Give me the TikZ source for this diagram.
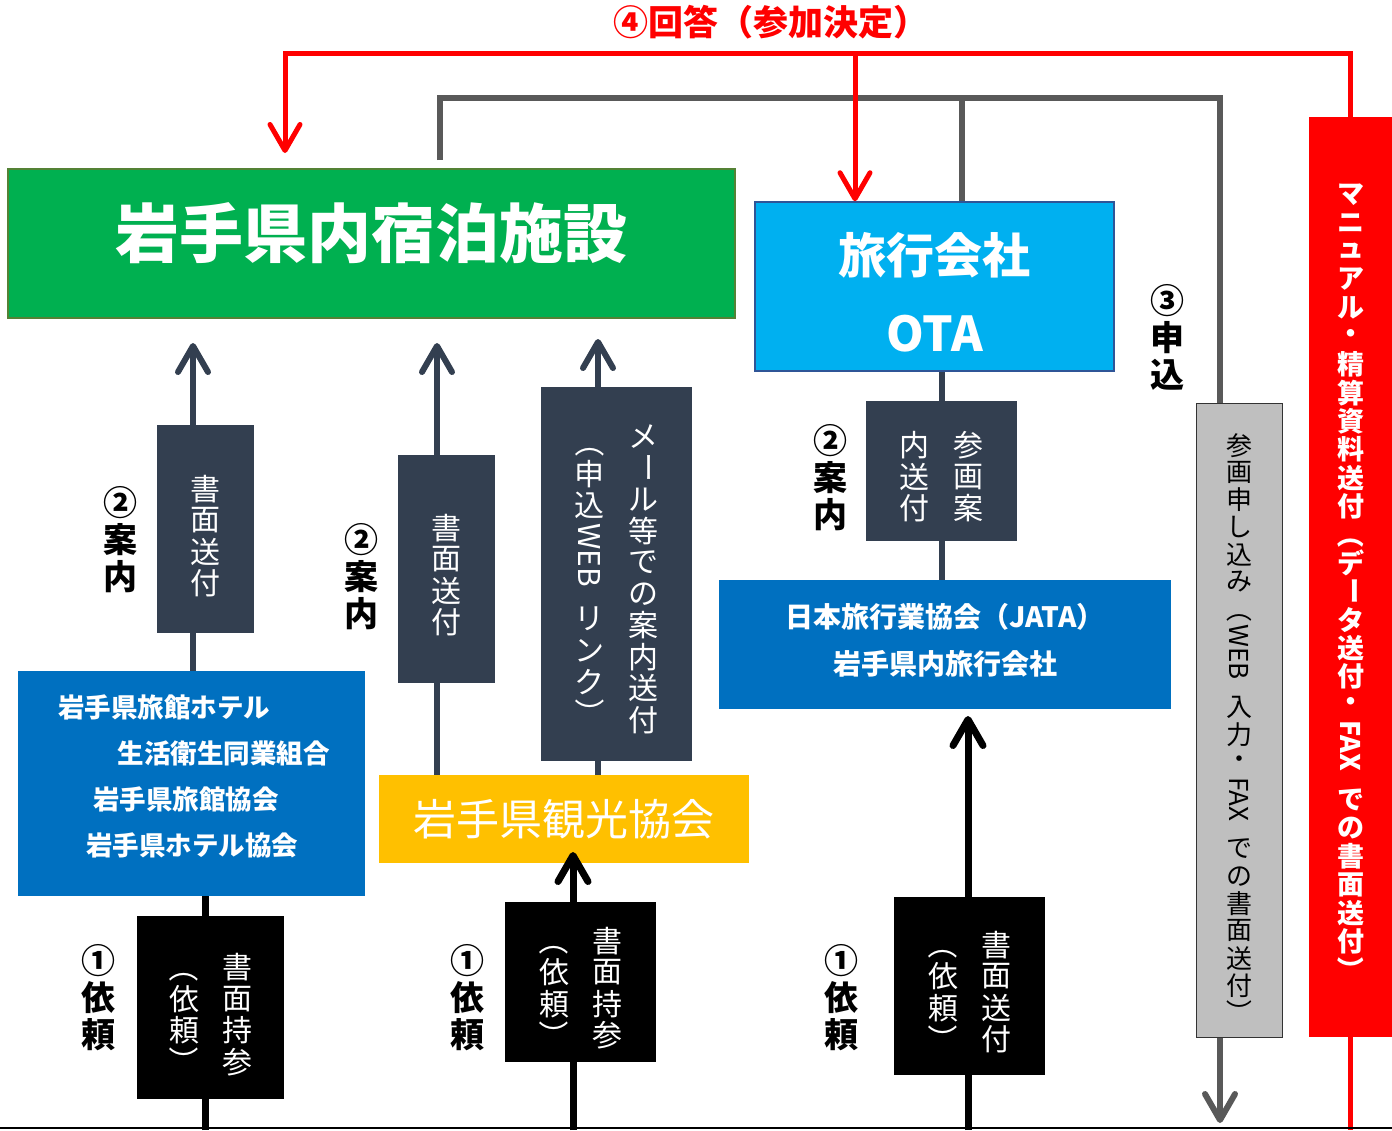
\documentclass[tikz,border=0pt]{standalone}
\usepackage{fontspec}
\setmainfont{Noto Sans CJK JP}
\usepackage{graphicx}
\usetikzlibrary{arrows.meta,backgrounds,positioning}
\definecolor{slate}{RGB}{51,63,80}
\definecolor{facgreen}{RGB}{0,176,80}
\definecolor{facborder}{RGB}{84,130,53}
\definecolor{otablue}{RGB}{0,176,240}
\definecolor{otaborder}{RGB}{47,85,151}
\definecolor{orgblue}{RGB}{0,112,192}
\definecolor{tourgold}{RGB}{255,192,0}
\definecolor{applygray}{RGB}{191,191,191}
\definecolor{linegray}{RGB}{89,89,89}
\definecolor{baseline}{RGB}{132,151,176}
% vertical (tategaki) stacking of characters
\makeatletter
\newcommand\tgap{}
\def\tt@gap{\tgap}
\newcommand\rot[1]{\rotatebox[origin=c]{-90}{#1}}
\newcommand\tate[2][1.05em]{$\vcenter{\offinterlineskip
  \@tfor\tt@ch:=#2\do{%
    \ifx\tt@ch\tt@gap\vskip0.45em\relax\else
      \setbox0\hbox{\tt@ch}%
      \dimen0=\ht0 \advance\dimen0 by\dp0
      \ifdim\dimen0<#1\relax\dimen0=#1\relax\else\advance\dimen0 by 0.15em\fi
      \hbox to 1.2em{\hss\vbox to\dimen0{\vss\box0\vss}\hss}%
    \fi}}$}
\makeatother
% move text inside a box without changing the box
\newcommand\shiftdown[2]{\raisebox{-#1}[\height][\depth]{#2}}
\tikzset{
    % Box styles
    facility box/.style={
        draw=facborder,
        fill=facgreen,
        line width=1.5pt,
        text=white,
        font=\bfseries\fontsize{64}{70}\selectfont
    },
    agent box/.style={
        draw=otaborder,
        fill=otablue,
        line width=1.5pt,
        text=white,
        font=\bfseries\fontsize{48}{78}\selectfont
    },
    org box/.style={
        fill=orgblue,
        text=white,
        inner sep=0pt,
        font=\bfseries\fontsize{26.5}{46}\selectfont
    },
    tour box/.style={
        fill=tourgold,
        text=white,
        font=\fontsize{43}{48}\selectfont
    },
    guide box/.style={
        fill=slate,
        text=white,
        inner sep=0pt,
        font=\fontsize{30}{32}\selectfont
    },
    request box/.style={
        fill=black,
        text=white,
        inner sep=0pt,
        font=\fontsize{30}{32}\selectfont
    },
    apply box/.style={
        fill=applygray,
        draw=black!80,
        line width=1pt,
        inner sep=0pt,
        font=\fontsize{26}{28}\selectfont
    },
    manual box/.style={
        fill=red,
        text=white,
        inner sep=0pt,
        font=\bfseries\fontsize{27}{29}\selectfont
    },
    num label/.style={
        inner sep=0pt,
        font=\bfseries\fontsize{34}{36}\selectfont
    },
    % Line styles
    barb/.style={-{Straight Barb[length=26pt,width=30pt,round]}},
    slate line/.style={draw=slate, line width=6pt},
    black line/.style={draw=black, line width=7pt},
    gray line/.style={draw=linegray, line width=6pt},
    red line/.style={draw=red, line width=5pt}
}

\begin{document}
\begin{tikzpicture}[x=1pt, y=-1pt]
    \useasboundingbox (0,0) rectangle (1392,1130);

    % boxes
    \node[facility box, minimum width=727pt, minimum height=149pt] (hotels) at (371.5,243.5)
        {\shiftdown{-10pt}{岩手県内宿泊施設}};
    \node[agent box, minimum width=359pt, minimum height=169pt] (ota) at (934.5,286.5)
        {\shiftdown{10pt}{\begin{tabular}{@{}c@{}}旅行会社\\OTA\end{tabular}}};
    \node[manual box, minimum width=83pt, minimum height=920pt] (manual) at (1350.5,577)
        {\shiftdown{5pt}{\tate{マニュアル・精算資料送付{\rot{（}}デ{\rot{ー}}タ送付・{\rot{FAX}}\tgap での書面送付{\rot{）}}}}};
    \node[apply box, minimum width=86pt, minimum height=634pt] (apply) at (1239,720)
        {\shiftdown{9pt}{\tate{参画申し込み{\rot{（}}{\rot{WEB}}\tgap 入力・{\rot{FAX}}\tgap での書面送付{\rot{）}}}}};

    \node[guide box, minimum width=97pt, minimum height=208pt] (guideA) at (205.5,529)
        {\shiftdown{7pt}{\tate{書面送付}}};
    \node[guide box, minimum width=97pt, minimum height=228pt] (guideB) at (446.5,569)
        {\shiftdown{6pt}{\tate{書面送付}}};
    \node[guide box, minimum width=151pt, minimum height=374pt] (guideC) at (616.5,574)
        {\shiftdown{4pt}{\tate{{\rot{（}}申込{\rot{WEB}}\tgap リンク{\rot{）}}}\hspace{18pt}\tate{メ{\rot{ー}}ル等での案内送付}}};
    \node[guide box, minimum width=151pt, minimum height=140pt] (guideD) at (941.5,471)
        {\shiftdown{6pt}{\tate{内送付}\hspace{18pt}\tate{参画案}}};

    \node[org box, minimum width=343pt, minimum height=225pt] (assoc) at (191.5,783.5)
        {\shiftdown{-6.5pt}{\begin{tabular}{@{}l@{}}
            \hspace*{40pt}岩手県旅館ホテル\\
            \hspace*{100pt}生活衛生同業組合\\
            \hspace*{75pt}岩手県旅館協会\\
            \hspace*{68pt}岩手県ホテル協会
        \end{tabular}}\hspace*{35pt}};
    \node[tour box, minimum width=370pt, minimum height=88pt] (tourism) at (564,819) {岩手県観光協会};
    \node[org box, minimum width=452pt, minimum height=129pt, font=\bfseries\fontsize{28}{47}\selectfont] (jata) at (945,644.5)
        {\shiftdown{-3pt}{\begin{tabular}{@{}c@{}}日本旅行業協会（JATA）\\岩手県内旅行会社\end{tabular}}};

    \node[request box, minimum width=147pt, minimum height=183pt] (reqA) at (210.5,1007.5)
        {\shiftdown{7pt}{\tate{{\rot{（}}依頼{\rot{）}}}\hspace{17pt}\tate{書面持参}}};
    \node[request box, minimum width=151pt, minimum height=160pt] (reqB) at (580.5,982)
        {\shiftdown{6pt}{\tate{{\rot{（}}依頼{\rot{）}}}\hspace{17pt}\tate{書面持参}}};
    \node[request box, minimum width=151pt, minimum height=178pt] (reqC) at (969.5,986)
        {\shiftdown{6pt}{\tate{{\rot{（}}依頼{\rot{）}}}\hspace{17pt}\tate{書面送付}}};

    % step labels
    \node[num label] (guideA label) at (120,540) {\tate[1.09em]{②案内}};
    \node[num label] (guideB label) at (361,577) {\tate[1.09em]{②案内}};
    \node[num label] (guideD label) at (830,478) {\tate[1.09em]{②案内}};
    \node[num label] (apply label) at (1167,338) {\tate[1.09em]{③申込}};
    \node[num label] (reqA label) at (98,998) {\tate[1.09em]{①依頼}};
    \node[num label] (reqB label) at (467,998) {\tate[1.09em]{①依頼}};
    \node[num label] (reqC label) at (841,998) {\tate[1.09em]{①依頼}};
    \node[text=red, font=\bfseries\fontsize{35}{38}\selectfont] (answer) at (771,22) {④回答（参加決定）};

    % free ends
    \coordinate (tipA) at (193,343);
    \coordinate (tipB) at (437,343);
    \coordinate (tipC) at (598,339);
    \coordinate (footA) at (205,1130);
    \coordinate (footB) at (573,1130);
    \coordinate (tipB2) at (573,852);
    \coordinate (footC) at (968,1130);
    \coordinate (tipC2) at (968,716);
    \coordinate (grayStart) at (440,160);
    \coordinate (grayTop) at (962,98);
    \coordinate (grayX) at (1220,1130);
    \coordinate (grayTip) at (1220,1123);
    \coordinate (redCorner) at (285,53);
    \coordinate (redTipA) at (285,153);
    \coordinate (redX) at (855,53);
    \coordinate (floorL) at (0,1128);
    \coordinate (floorR) at (1392,1128);

    \begin{scope}[on background layer]
        \draw[slate line, barb] (assoc.north -| tipA) -- (tipA);
        \draw[slate line, barb] (tourism.north -| tipB) -- (tipB);
        \draw[slate line, barb] (tourism.north -| tipC) -- (tipC);
        \draw[slate line] (guideD.north) -- (guideD.north |- ota.south);
        \draw[slate line] (guideD.south) -- (guideD.south |- jata.north);
        \draw[black line] (footA) -- (footA |- assoc.south);
        \draw[black line] (footB) -- (footB |- reqB.south);
        \draw[black line] (footC) -- (footC |- reqC.south);
        \draw[gray line] (grayStart) |- (grayTop) -| (apply.north -| grayX);
        \draw[gray line] (grayTop) -- (grayTop |- ota.north);
        \draw[red line] (manual.south) -- (manual.south |- footA);
        \draw[baseline, line width=1.5pt] (floorL) -- (floorR);
    \end{scope}
    \draw[black line, barb] (reqB.north -| footB) -- (tipB2);
    \draw[black line, barb] (reqC.north -| footC) -- (tipC2);
    \draw[gray line, barb] (apply.south -| grayX) -- (grayTip);
    \draw[red line, barb] (manual.north) |- (redCorner) -- (redTipA);
    \draw[red line, barb] (redX) -- (ota.north -| redX);
\end{tikzpicture}
\end{document}
